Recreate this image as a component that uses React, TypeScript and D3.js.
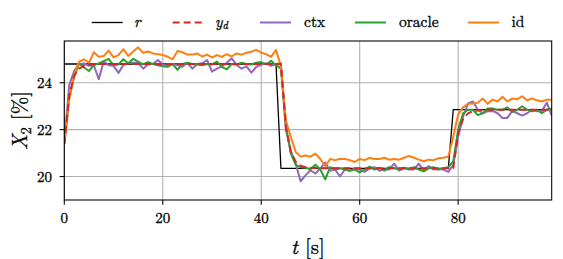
import React from "react";
import * as d3 from "d3";

const W = 563;
const H = 259;

const rRef = [
  24.8, 24.8, 24.8, 24.8, 24.8, 24.8, 24.8, 24.8, 24.8, 24.8,
  24.8, 24.8, 24.8, 24.8, 24.8, 24.8, 24.8, 24.8, 24.8, 24.8,
  24.8, 24.8, 24.8, 24.8, 24.8, 24.8, 24.8, 24.8, 24.8, 24.8,
  24.8, 24.8, 24.8, 24.8, 24.8, 24.8, 24.8, 24.8, 24.8, 24.8,
  24.8, 24.8, 24.8, 24.8, 20.35, 20.35, 20.35, 20.35, 20.35, 20.35,
  20.35, 20.35, 20.35, 20.35, 20.35, 20.35, 20.35, 20.35, 20.35, 20.35,
  20.35, 20.35, 20.35, 20.35, 20.35, 20.35, 20.35, 20.35, 20.35, 20.35,
  20.35, 20.35, 20.35, 20.35, 20.35, 20.35, 20.35, 20.35, 20.35, 22.85,
  22.85, 22.85, 22.85, 22.85, 22.85, 22.85, 22.85, 22.85, 22.85, 22.85,
  22.85, 22.85, 22.85, 22.85, 22.85, 22.85, 22.85, 22.85, 22.85, 22.85,
];

const yd = [
  21.4, 23.45, 24.3, 24.6, 24.72, 24.77, 24.79, 24.8, 24.8, 24.8,
  24.8, 24.8, 24.8, 24.8, 24.8, 24.8, 24.8, 24.8, 24.8, 24.8,
  24.8, 24.8, 24.8, 24.8, 24.8, 24.8, 24.8, 24.8, 24.8, 24.8,
  24.8, 24.8, 24.8, 24.8, 24.8, 24.8, 24.8, 24.8, 24.8, 24.8,
  24.8, 24.8, 24.8, 24.8, 24.8, 22.13, 21.06, 20.63, 20.46, 20.4,
  20.37, 20.36, 20.35, 20.35, 20.35, 20.35, 20.35, 20.35, 20.35, 20.35,
  20.35, 20.35, 20.35, 20.35, 20.35, 20.35, 20.35, 20.35, 20.35, 20.35,
  20.35, 20.35, 20.35, 20.35, 20.35, 20.35, 20.35, 20.35, 20.35, 20.35,
  21.85, 22.45, 22.69, 22.79, 22.82, 22.84, 22.85, 22.85, 22.85, 22.85,
  22.85, 22.85, 22.85, 22.85, 22.85, 22.85, 22.85, 22.85, 22.85, 22.85,
];

const ctx = [
  21.4, 23.9, 24.5, 24.8, 24.82, 24.72, 24.75, 24.15, 24.9, 24.75,
  24.72, 24.42, 24.75, 24.85, 24.85, 24.85, 24.6, 24.78, 24.8, 24.97,
  24.78, 24.72, 24.8, 24.75, 24.68, 24.85, 24.6, 24.8, 24.83, 24.97,
  24.47, 24.6, 24.7, 24.85, 25.04, 24.76, 24.6, 24.7, 24.43, 24.68,
  24.76, 24.83, 24.72, 24.8, 24.83, 22.0, 21.1, 20.55, 19.8, 20.05,
  20.27, 20.13, 20.34, 20.6, 20.25, 20.3, 20.0, 20.3, 20.25, 20.35,
  20.3, 20.2, 20.35, 20.4, 20.25, 20.3, 20.3, 20.55, 20.25, 20.35,
  20.3, 20.3, 20.55, 20.25, 20.45, 20.3, 20.32, 20.3, 20.2, 20.5,
  21.7, 22.55, 23.12, 23.2, 22.85, 22.7, 22.78, 22.8, 22.7, 22.5,
  22.5, 22.8, 22.7, 22.6, 22.7, 22.85, 22.78, 22.8, 23.15, 22.6,
];

const oracle = [
  21.4, 23.35, 24.25, 24.82, 24.65, 24.5, 24.75, 24.82, 24.92, 25.02,
  24.75, 24.78, 25.0, 24.82, 25.02, 24.9, 24.78, 24.88, 24.8, 24.75,
  24.7, 24.68, 24.8, 24.55, 24.8, 24.85, 24.8, 24.78, 24.75, 24.8,
  24.78, 24.9, 24.68, 24.57, 24.8, 24.78, 24.85, 24.8, 24.78, 24.85,
  24.88, 24.78, 24.94, 24.75, 24.6, 22.2, 21.0, 20.5, 20.4, 20.38,
  20.3, 20.5, 20.3, 19.88, 20.4, 20.3, 20.35, 20.3, 20.25, 20.3,
  20.18, 20.3, 20.42, 20.3, 20.38, 20.25, 20.4, 20.35, 20.3, 20.38,
  20.32, 20.4, 20.3, 20.22, 20.35, 20.4, 20.3, 20.35, 20.4, 20.65,
  22.0, 22.7, 22.85, 22.85, 22.62, 22.7, 22.9, 22.9, 22.85, 22.85,
  22.95, 22.75, 22.85, 23.0, 22.85, 22.78, 22.85, 22.7, 22.85, 22.9,
];

const idSeries = [
  21.4, 23.3, 24.35, 24.9, 25.0, 24.85, 25.3, 25.11, 25.14, 25.37,
  25.08, 25.18, 25.43, 25.14, 25.33, 25.51, 25.28, 25.33, 25.25, 25.22,
  25.18, 25.11, 25.0, 25.35, 25.3, 25.2, 25.2, 25.25, 25.12, 25.2,
  25.08, 25.18, 25.1, 25.22, 25.12, 25.25, 25.2, 25.28, 25.32, 25.4,
  25.28, 25.22, 25.1, 25.4, 24.7, 22.4, 21.7, 21.05, 20.85, 20.9,
  20.85, 20.98, 20.75, 20.45, 20.75, 20.7, 20.75, 20.75, 20.7, 20.62,
  20.75, 20.7, 20.8, 20.75, 20.75, 20.8, 20.72, 20.75, 20.72, 20.8,
  20.88, 20.8, 20.72, 20.65, 20.72, 20.7, 20.78, 20.8, 20.85, 21.7,
  22.65, 22.95, 23.1, 23.12, 23.15, 23.33, 23.1, 23.28, 23.2, 23.4,
  23.2, 23.33, 23.3, 23.42, 23.25, 23.33, 23.25, 23.2, 23.28, 23.28,
];

const xTicks = [0, 20, 40, 60, 80];
const yTicks = [20, 22, 24];

const COLORS = {
  r: "#000000",
  yd: "#d62728",
  ctx: "#9467bd",
  oracle: "#2ca02c",
  id: "#ff7f0e",
};

const textStyle = { fontFamily: '"Latin Modern Roman", "Liberation Serif"' };
const textStroke = { stroke: "#000", strokeWidth: 0.3 };

export default function App() {
  const left = 64.3;
  const right = 551.7;
  const top = 41;
  const bottom = 200;

  const x = d3.scaleLinear().domain([0, 99]).range([left, right]);
  const y = d3.scaleLinear().domain([19, 25.78]).range([bottom, top]);

  const line = d3
    .line<number>()
    .x((_, i) => x(i))
    .y((v) => y(v));

  const series = [
    { key: "r", data: rRef, color: COLORS.r, width: 1.3, dash: undefined },
    { key: "ctx", data: ctx, color: COLORS.ctx, width: 2, dash: undefined },
    { key: "oracle", data: oracle, color: COLORS.oracle, width: 2, dash: undefined },
    { key: "id", data: idSeries, color: COLORS.id, width: 2, dash: undefined },
    { key: "yd", data: yd, color: COLORS.yd, width: 2, dash: "7,4" },
  ];

  const legendY = 22.5;
  const legendItems = [
    { key: "r", x0: 91.7, color: COLORS.r, width: 1.3, dash: undefined, tx: 134 },
    { key: "yd", x0: 172.7, color: COLORS.yd, width: 2, dash: "7,4", tx: 215 },
    { key: "ctx", x0: 260, color: COLORS.ctx, width: 2, dash: undefined, tx: 304 },
    { key: "oracle", x0: 355, color: COLORS.oracle, width: 2, dash: undefined, tx: 399 },
    { key: "id", x0: 468, color: COLORS.id, width: 2, dash: undefined, tx: 511.5 },
  ];

  const renderLegendLabel = (key: string) => {
    if (key === "r") return <tspan fontStyle="italic">r</tspan>;
    if (key === "yd")
      return (
        <>
          <tspan fontStyle="italic">y</tspan>
          <tspan fontStyle="italic" fontSize={10.5} dy={2.5}>d</tspan>
        </>
      );
    return key;
  };

  return (
    <svg
      width={W}
      height={H}
      style={{ position: "absolute", left: 0, top: 0, background: "#fff" }}
    >
      <rect x={0} y={0} width={W} height={H} fill="#fff" />
      <defs>
        <clipPath id="plotclip">
          <rect x={left} y={top} width={right - left} height={bottom - top} />
        </clipPath>
      </defs>

      {/* grid */}
      <g stroke="#b0b0b0" strokeWidth={1.07}>
        {xTicks.map((t) => (
          <line key={"gx" + t} x1={x(t)} x2={x(t)} y1={top} y2={bottom} />
        ))}
        {yTicks.map((t) => (
          <line key={"gy" + t} x1={left} x2={right} y1={y(t)} y2={y(t)} />
        ))}
      </g>

      {/* series */}
      <g clipPath="url(#plotclip)" fill="none" strokeLinejoin="round">
        {series.map((s) => (
          <path
            key={s.key}
            d={line(s.data) || ""}
            stroke={s.color}
            strokeWidth={s.width}
            strokeDasharray={s.dash}
          />
        ))}
      </g>

      {/* spines */}
      <rect
        x={left}
        y={top}
        width={right - left}
        height={bottom - top}
        fill="none"
        stroke="#000"
        strokeWidth={1.07}
      />

      {/* x ticks */}
      <g>
        {xTicks.map((t) => (
          <g key={"xt" + t}>
            <line x1={x(t)} x2={x(t)} y1={bottom} y2={bottom + 4.7} stroke="#000" strokeWidth={1.07} />
            <text x={x(t)} y={222.7} textAnchor="middle" fontSize={15} fill="#000" style={textStyle} {...textStroke}>
              {t}
            </text>
          </g>
        ))}
      </g>

      {/* y ticks */}
      <g>
        {yTicks.map((t) => (
          <g key={"yt" + t}>
            <line x1={left - 4.7} x2={left} y1={y(t)} y2={y(t)} stroke="#000" strokeWidth={1.07} />
            <text x={52} y={y(t) + 5.2} textAnchor="end" fontSize={15} fill="#000" style={textStyle} {...textStroke}>
              {t}
            </text>
          </g>
        ))}
      </g>

      {/* axis labels */}
      <text x={(left + right) / 2} y={254} textAnchor="middle" fontSize={21} fill="#000" style={textStyle} {...textStroke}>
        <tspan fontStyle="italic">t</tspan>
        <tspan> [s]</tspan>
      </text>
      <g transform={`translate(27, ${(top + bottom) / 2}) rotate(-90)`}>
        <text x={0} y={0} textAnchor="middle" fontSize={21} fill="#000" style={textStyle} {...textStroke}>
          <tspan fontStyle="italic">X</tspan>
          <tspan fontSize={14.5} dy={3.5}>2</tspan>
          <tspan dy={-3.5}> [%]</tspan>
        </text>
      </g>

      {/* legend */}
      <g>
        {legendItems.map((it) => (
          <g key={"lg" + it.key}>
            <line
              x1={it.x0}
              x2={it.x0 + 31}
              y1={legendY}
              y2={legendY}
              stroke={it.color}
              strokeWidth={it.width}
              strokeDasharray={it.dash}
            />
            <text x={it.tx} y={26.8} fontSize={15.5} fill="#000" style={textStyle} {...textStroke}>
              {renderLegendLabel(it.key)}
            </text>
          </g>
        ))}
      </g>
    </svg>
  );
}
